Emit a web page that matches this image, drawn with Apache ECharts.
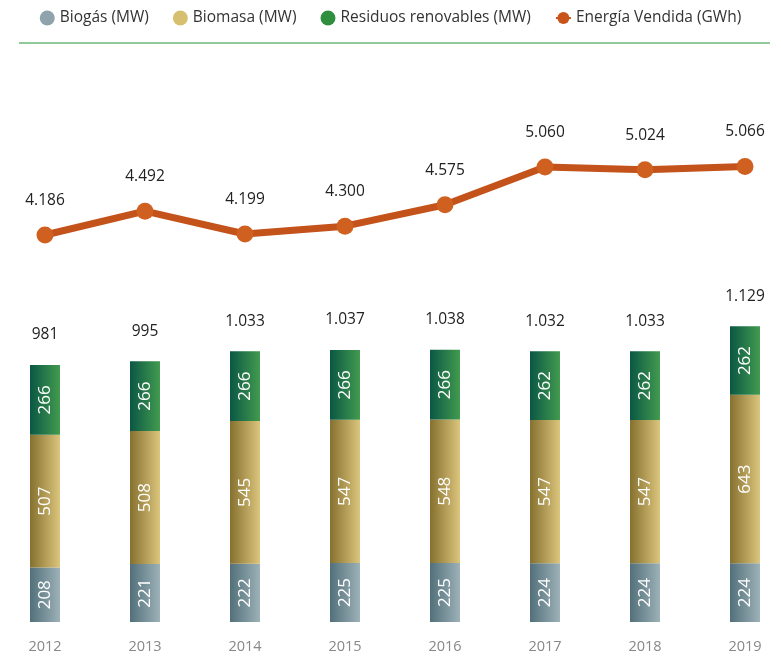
<!DOCTYPE html>
<html><head><meta charset="utf-8">
<script src="https://cdn.jsdelivr.net/npm/echarts@6/dist/echarts.min.js"></script>
<style>html,body{margin:0;padding:0;background:#fff}#c{width:781px;height:656px}</style>
</head><body><div id="c"></div>
<script>
const years = ['2012','2013','2014','2015','2016','2017','2018','2019'];
const biogas = [208,221,222,225,225,224,224,224];
const biomasa = [507,508,545,547,548,547,547,643];
const residuos = [266,266,266,266,266,262,262,262];
const totals = [981,995,1033,1037,1038,1032,1033,1129];
const energia = [4186,4492,4199,4300,4575,5060,5024,5066];

const fmt = v => { const s = String(Math.round(v)); return s.length > 3 ? s.slice(0, s.length-3) + '.' + s.slice(-3) : s; };
const grad = (a, b) => new echarts.graphic.LinearGradient(0,0,1,0,[{offset:0,color:a},{offset:1,color:b}]);
const font = '"Open Sans", "Noto Sans", sans-serif';
const inner = {show:true, position:'inside', rotate:90, color:'#fff', fontSize:17, fontFamily:font, formatter: p => fmt(p.value)};

const chart = echarts.init(document.getElementById('c'));
chart.setOption({
  animation:false,
  textStyle:{fontFamily:font},
  legend:{top:5, left:'center', itemGap:24, itemWidth:15, itemHeight:15,
    textStyle:{fontSize:15.5, color:'#333', fontFamily:font},
    data:[{name:'Biogás (MW)', icon:'circle', itemStyle:{color:'#8fa3ad'}},
          {name:'Biomasa (MW)', icon:'circle', itemStyle:{color:'#d6c070'}},
          {name:'Residuos renovables (MW)', icon:'circle', itemStyle:{color:'#2f8f3f'}},
          {name:'Energía Vendida (GWh)', itemStyle:{color:'#c9541a'}}]},
  graphic:[{type:'line', shape:{x1:19,y1:43,x2:770,y2:43}, style:{stroke:'#90c99a', lineWidth:2}}],
  grid:[{left:45, width:700, top:307.6, height:314.4},
        {left:45, width:700, top:156.1, height:93.4}],
  xAxis:[{type:'category', gridIndex:0, boundaryGap:false, data:years, axisLine:{show:false}, axisTick:{show:false},
          axisLabel:{color:'#888', fontSize:14.5, margin:17, fontFamily:font}},
         {type:'category', gridIndex:1, boundaryGap:false, data:years, show:false}],
  yAxis:[{type:'value', gridIndex:0, min:0, max:1200, show:false},
         {type:'value', gridIndex:1, min:4000, max:5200, show:false}],
  series:[
    {name:'Biogás (MW)', type:'bar', stack:'a', barWidth:30, clip:false, data:biogas,
     itemStyle:{color:grad('#52707a','#9db1b8')}, label:inner},
    {name:'Biomasa (MW)', type:'bar', stack:'a', clip:false, data:biomasa,
     itemStyle:{color:grad('#85702f','#dcc57c')}, label:inner},
    {name:'Residuos renovables (MW)', type:'bar', stack:'a', clip:false, data:residuos,
     itemStyle:{color:grad('#0b5744','#429b4f')}, label:inner},
    {name:'total', type:'bar', stack:'a', clip:false, data:totals.map(()=>0), itemStyle:{color:'transparent'},
     label:{show:true, position:'top', distance:22, color:'#222', fontSize:15.5, fontFamily:font,
       formatter: p => fmt(totals[p.dataIndex])}},
    {name:'Energía Vendida (GWh)', type:'line', xAxisIndex:1, yAxisIndex:1, data:energia, clip:false,
     symbol:'circle', symbolSize:17, lineStyle:{color:'#c4521b', width:7},
     itemStyle:{color:'#d0601f'},
     label:{show:true, position:'top', distance:18, color:'#222', fontSize:15.5, fontFamily:font,
       formatter: p => fmt(p.value)}}
  ]
});
</script></body></html>
